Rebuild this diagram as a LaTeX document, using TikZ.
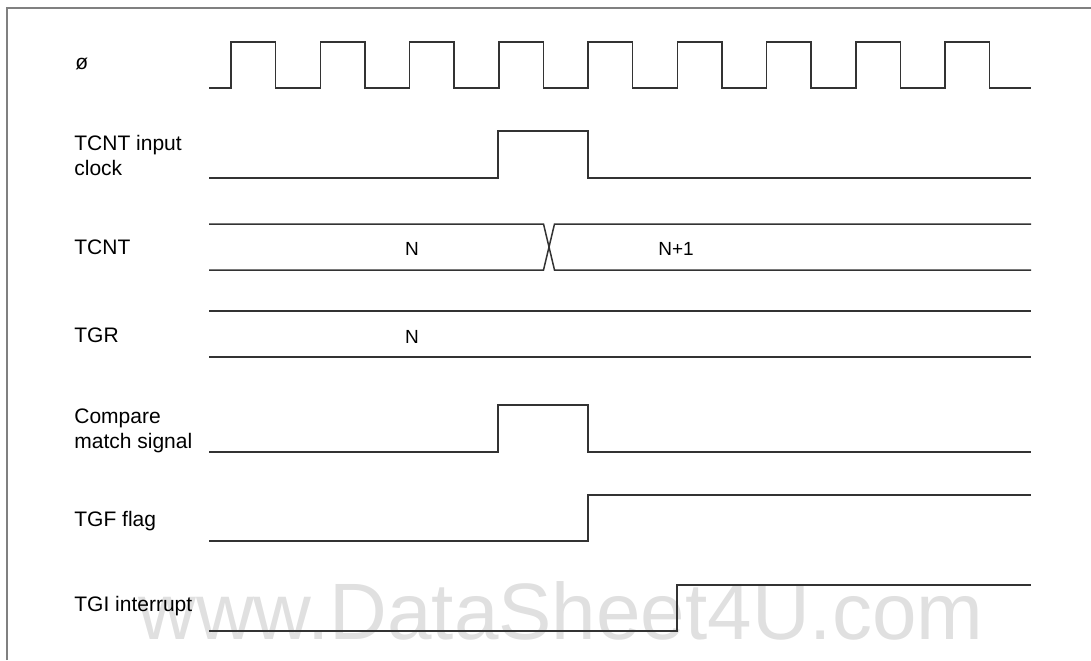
\documentclass[tikz,border=0pt]{standalone}
\usepackage{fontspec}
\setmainfont{Liberation Sans}
\begin{document}
\begin{tikzpicture}[
    x=0.5pt, y=-0.5pt,
    wave/.style={draw=black!80, line width=0.75pt},
    frame/.style={draw=black!50, line width=1pt},
    signame/.style={anchor=base west, inner sep=0pt, align=left, font=\fontsize{10.5}{12.5}\selectfont},
    busval/.style={anchor=base, inner sep=0pt, font=\fontsize{9.5}{11}\selectfont},
    wmark/.style={anchor=base west, inner sep=0pt, text=black!12, font=\fontsize{40}{40}\selectfont}
]
\useasboundingbox (0,0) rectangle (1091,660);
% watermark, behind everything
\node[wmark] (watermark) at (138,639) {www.DataSheet4U.com};
% frame
\draw[frame] (7,660) -- (7,8) -- (1091,8);

% signal names (two-line names sit on their last line)
\node[signame] (phi)    at (75,69)   {ø};
\node[signame] (tcntin) at (74,175)  {TCNT input\\clock};
\node[signame] (tcnt)   at (74,254)  {TCNT};
\node[signame] (tgr)    at (74,342)  {TGR};
\node[signame] (cmp)    at (74,448)  {Compare\\match signal};
\node[signame] (tgf)    at (74,526)  {TGF flag};
\node[signame] (tgi)    at (74,611)  {TGI interrupt};

% system clock
\draw[wave] (209,88)
    \foreach \k in {0,...,8} {
        -- ({231+89.25*\k},88) -- ({231+89.25*\k},42)
        -- ({275.6+89.25*\k},42) -- ({275.6+89.25*\k},88)
    } -- (1031,88);

% TCNT input clock
\draw[wave] (209,178) -- (498,178) -- (498,131) -- (588,131) -- (588,178) -- (1031,178);

% TCNT
\draw[wave] (209,224) -- (543.5,224) -- (554.5,270) -- (1031,270);
\draw[wave] (209,270) -- (543.5,270) -- (554.5,224) -- (1031,224);
\node[busval] (tcntN)  at (412,255) {N};
\node[busval] (tcntN1) at (676,255) {N+1};

% TGR
\draw[wave] (209,311) -- (1031,311);
\draw[wave] (209,357) -- (1031,357);
\node[busval] (tgrN) at (412,343) {N};

% compare match signal
\draw[wave] (209,452) -- (498,452) -- (498,405) -- (588,405) -- (588,452) -- (1031,452);

% TGF flag
\draw[wave] (209,541) -- (588,541) -- (588,495) -- (1031,495);

% TGI interrupt
\draw[wave] (209,631) -- (677,631) -- (677,585) -- (1031,585);
\end{tikzpicture}
\end{document}
